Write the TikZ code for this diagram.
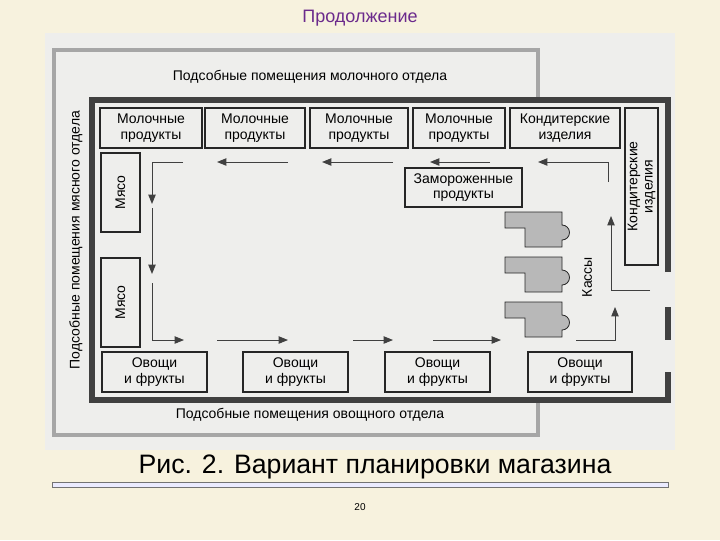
\documentclass[tikz,border=0pt]{standalone}
\usepackage{fontspec}
\setmainfont{Liberation Sans}
\usetikzlibrary{arrows.meta}
\definecolor{slide}{HTML}{F7F2DE}
\definecolor{photo}{HTML}{EEEEEC}
\definecolor{ttl}{HTML}{6B2A8C}
\tikzset{
  box/.style={draw=black!85,line width=0.8pt,fill=photo,inner sep=0pt,align=center,font=\fontsize{10.5}{11.5}\selectfont},
  lbl/.style={inner sep=0pt,font=\fontsize{10.5}{11.5}\selectfont},
  flow/.style={draw=black!75,line width=0.7pt},
  arr/.style={flow,-{Triangle[length=7pt,width=5.5pt]}},
  desk/.style={draw=black!85,line width=0.6pt,fill=black!28},
  wall/.style={draw=black!75,line width=4pt},
  hatch/.style={draw=black!35,line width=3pt}
}
\begin{document}
\begin{tikzpicture}[x=0.75pt,y=-0.75pt]
\useasboundingbox (0,0) rectangle (720,540);
\fill[slide] (0,0) rectangle (720,540);
\fill[photo] (45,33) rectangle (675,450);
\node[font=\fontsize{13.5}{14}\selectfont,text=ttl] (title) at (360,18) {Продолжение};
% outer hatched frame
\draw[hatch] (538,100) -- (538,50) -- (54,50) -- (54,435) -- (538,435) -- (538,400);
\node[lbl] (topl) at (310,77) {Подсобные помещения молочного отдела};
\node[lbl] (botl) at (310,415) {Подсобные помещения овощного отдела};
\node[lbl,rotate=90] (leftl) at (76,240) {Подсобные помещения мясного отдела};
% inner wall
\draw[wall] (668,272) -- (668,100) -- (92,100) -- (92,400) -- (668,400) -- (668,372);
\draw[wall] (668,307) -- (668,340);
% top boxes
\node[box,minimum width=102pt*0.75,minimum height=40pt*0.75] (m1) at (151,128) {Молочные\\продукты};
\node[box,minimum width=100pt*0.75,minimum height=40pt*0.75] (m2) at (255,128) {Молочные\\продукты};
\node[box,minimum width=98pt*0.75,minimum height=40pt*0.75] (m3) at (359,128) {Молочные\\продукты};
\node[box,minimum width=92pt*0.75,minimum height=40pt*0.75] (m4) at (459,128) {Молочные\\продукты};
\node[box,minimum width=110pt*0.75,minimum height=40pt*0.75] (k1) at (565,128) {Кондитерские\\изделия};
\node[box,rotate=90,minimum width=157pt*0.75,minimum height=33pt*0.75] (k2) at (641.5,186.5) {Кондитерские\\изделия};
\node[box,rotate=90,minimum width=79pt*0.75,minimum height=39pt*0.75] (mya1) at (120.5,192.5) {Мясо};
\node[box,rotate=90,minimum width=89pt*0.75,minimum height=39pt*0.75] (mya2) at (120.5,302.5) {Мясо};
\node[box,minimum width=117pt*0.75,minimum height=39pt*0.75] (zam) at (463.5,187.5) {Замороженные\\продукты};
% bottom boxes
\node[box,minimum width=105pt*0.75,minimum height=40pt*0.75] (o1) at (154.5,372) {Овощи\\и фрукты};
\node[box,minimum width=105pt*0.75,minimum height=40pt*0.75] (o2) at (295.5,372) {Овощи\\и фрукты};
\node[box,minimum width=105pt*0.75,minimum height=40pt*0.75] (o3) at (437.5,372) {Овощи\\и фрукты};
\node[box,minimum width=104pt*0.75,minimum height=40pt*0.75] (o4) at (580,372) {Овощи\\и фрукты};
% cash desks
\foreach \i/\dy in {1/0,2/45,3/90}{
  \draw[desk] (505,212+\dy) -- (562,212+\dy) -- (562,225+\dy) arc[start angle=-90,end angle=90,radius=7.5] -- (562,247+\dy) -- (525,247+\dy) -- (525,228+\dy) -- (505,228+\dy) -- cycle;
}
\node[lbl,rotate=90] (kassy) at (587,277) {Кассы};
% flow arrows: top row
\coordinate (t4s) at (608,182);
\coordinate (t4c) at (608,162);
\coordinate (t4e) at (538,162);
\draw[arr] (t4s) -- (t4c) -- (t4e);
\coordinate (t3s) at (490,162); \coordinate (t3e) at (430,162);
\draw[arr] (t3s) -- (t3e);
\coordinate (t2s) at (393,162); \coordinate (t2e) at (322,162);
\draw[arr] (t2s) -- (t2e);
\coordinate (t1s) at (288,162); \coordinate (t1e) at (217,162);
\draw[arr] (t1s) -- (t1e);
\coordinate (l0) at (183,162); \coordinate (l1) at (152,162);
\coordinate (l2) at (152,204); \coordinate (l3) at (152,208); \coordinate (l4) at (152,274);
\draw[arr] (l0) -- (l1) -- (l2);
\draw[arr] (l3) -- (l4);
\coordinate (l5) at (152,283); \coordinate (l6) at (152,340); \coordinate (l7) at (184,340);
\draw[arr] (l5) -- (l6) -- (l7);
% bottom row
\coordinate (b2s) at (217,340); \coordinate (b2e) at (288,340);
\draw[arr] (b2s) -- (b2e);
\coordinate (b3s) at (353,340); \coordinate (b3e) at (393,340);
\draw[arr] (b3s) -- (b3e);
\coordinate (b4s) at (433,340); \coordinate (b4e) at (501,340);
\draw[arr] (b4s) -- (b4e);
\coordinate (r1s) at (576,340); \coordinate (r1c) at (615,340); \coordinate (r1e) at (615,307);
\draw[arr] (r1s) -- (r1c) -- (r1e);
\coordinate (r2s) at (650,290); \coordinate (r2c) at (611,290); \coordinate (r2e) at (611,216);
\draw[arr] (r2s) -- (r2c) -- (r2e);
% caption
\node[font=\fontsize{20}{21}\selectfont] (cap) at (375,467) {Рис. 2. Вариант планировки магазина};
\draw[draw=black!55,line width=0.6pt,fill=blue!8] (52,482) rectangle (668,487);
\node[font=\fontsize{7.5}{8}\selectfont] (page) at (360,507) {20};
\end{tikzpicture}
\end{document}
